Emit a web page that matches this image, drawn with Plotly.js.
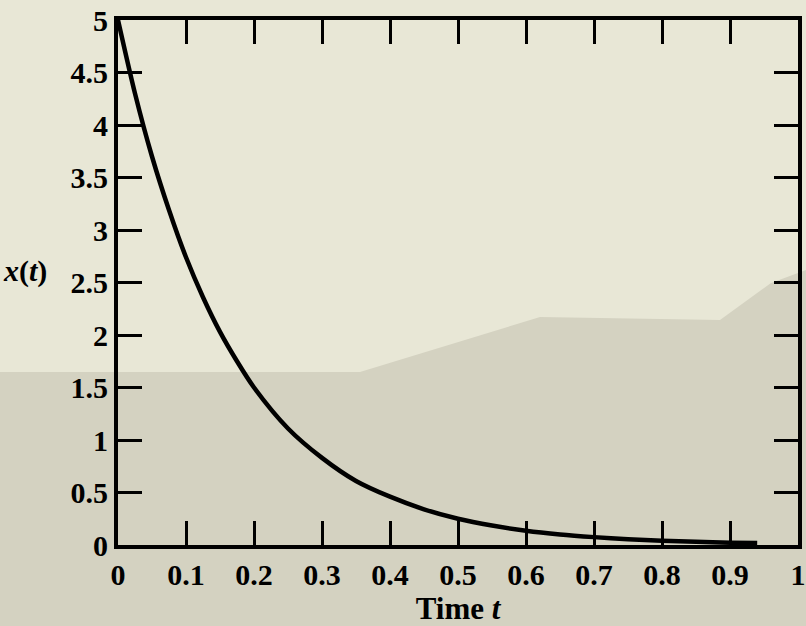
<!DOCTYPE html>
<html>
<head>
<meta charset="utf-8">
<script src="https://cdn.plot.ly/plotly-3.0.1.min.js"></script>
<style>
  html, body { margin: 0; padding: 0; background: #e8e7d6; }
  #chart { width: 806px; height: 626px; }
</style>
</head>
<body>
<div id="chart"></div>
<script>
// Values
const timeT = [0, 0.025, 0.05, 0.075, 0.1, 0.125, 0.15, 0.175, 0.2, 0.25, 0.3, 0.35, 0.4, 0.45, 0.5, 0.55, 0.6, 0.65, 0.7, 0.75, 0.8, 0.85, 0.9, 0.94];
const xOfT  = [5.0, 4.30, 3.70, 3.19, 2.74, 2.36, 2.03, 1.75, 1.50, 1.11, 0.83, 0.61, 0.46, 0.34, 0.25, 0.185, 0.135, 0.10, 0.075, 0.055, 0.04, 0.03, 0.022, 0.018];
const xTickVals = [0, 0.1, 0.2, 0.3, 0.4, 0.5, 0.6, 0.7, 0.8, 0.9, 1];
const xTickText = ['0', '0.1', '0.2', '0.3', '0.4', '0.5', '0.6', '0.7', '0.8', '0.9', '1'];
const yTickVals = [0, 0.5, 1, 1.5, 2, 2.5, 3, 3.5, 4, 4.5, 5];
const yTickText = ['0', '0.5', '1', '1.5', '2', '2.5', '3', '3.5', '4', '4.5', '5'];

const serif = 'Liberation Serif, Times New Roman, serif';

const trace = {
  x: timeT,
  y: xOfT,
  type: 'scatter',
  mode: 'lines',
  line: { color: '#000000', width: 4.5, shape: 'spline', smoothing: 0.8 },
  hoverinfo: 'skip',
  showlegend: false
};

const axisCommon = {
  showgrid: false,
  zeroline: false,
  showline: true,
  linecolor: '#000000',
  linewidth: 4,
  mirror: 'ticks',
  ticks: 'inside',
  ticklen: 24,
  tickwidth: 3,
  tickcolor: '#000000',
  tickfont: { family: serif, size: 30, color: '#000000', weight: 'bold' },
  tickmode: 'array',
  fixedrange: true
};

const layout = {
  width: 806,
  height: 626,
  margin: { l: 118, r: 8, t: 20, b: 81, pad: 0 },
  paper_bgcolor: '#e8e7d6',
  plot_bgcolor: 'rgba(0,0,0,0)',
  xaxis: Object.assign({}, axisCommon, {
    range: [0, 1],
    tickvals: xTickVals,
    ticktext: xTickText,
    title: { text: 'Time <i>t</i>', font: { family: serif, size: 31, color: '#000000', weight: 'bold' }, standoff: 3 }
  }),
  yaxis: Object.assign({}, axisCommon, {
    range: [0, 5],
    tickvals: yTickVals,
    ticktext: yTickText
  }),
  shapes: [{
    type: 'path',
    xref: 'paper', yref: 'paper',
    path: 'M -0.18 0.3295 L 0.3559 0.3295 L 0.6206 0.4343 L 0.8853 0.4286 L 0.9603 0.499 L 1.02 0.5276 L 1.02 -0.17 L -0.18 -0.17 Z',
    fillcolor: '#d4d2c1',
    line: { width: 0 },
    layer: 'below'
  }],
  annotations: [{
    text: '<i>x</i>(<i>t</i>)',
    xref: 'paper', yref: 'paper',
    x: -0.1368, y: 0.522,
    xanchor: 'center', yanchor: 'middle',
    showarrow: false,
    font: { family: serif, size: 30, color: '#000000', weight: 'bold' }
  }]
};

Plotly.newPlot('chart', [trace], layout, { displayModeBar: false, staticPlot: true });
</script>
</body>
</html>
